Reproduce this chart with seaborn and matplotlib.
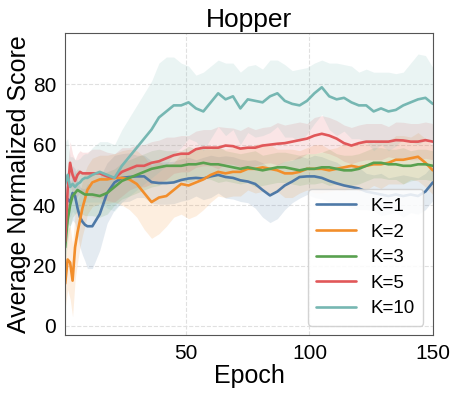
import matplotlib
matplotlib.use("Agg")
import matplotlib.pyplot as plt
import seaborn as sns
import numpy as np
import pandas as pd

epochs = list(range(1, 11)) + [12] + list(range(15, 151, 3))

k1_mean = [40, 42, 41, 44, 43, 39, 36, 34.5, 33.5, 33, 33, 37, 44, 47.5, 49, 49.3, 49.5, 49.5, 47.6,
           47.3, 47.3, 47.5, 48.3, 48.8, 49, 48.8, 49.5, 50, 49.3, 49, 48.2, 47.8, 47, 45, 43.2, 44.5,
           46.5, 47.8, 49.3, 49.5, 49.5, 49, 48, 47.2, 46.5, 46, 45.5, 44.5, 44, 43.5, 43, 43.5, 43,
           43.5, 43, 44.5, 47.5]
k2_mean = [14, 22, 21, 15, 26, 31, 35, 39, 42, 45, 47.5, 48.5, 48.5, 49, 49, 48.5, 47, 44, 41, 42.5,
           43, 45, 47, 46.5, 47.5, 48.5, 50, 51, 50.5, 51, 51, 52, 52, 52.5, 52, 51.5, 50.5, 50.5, 51,
           52, 52, 52, 51.5, 52, 52.5, 53, 52.5, 53, 53.5, 53.5, 54, 55, 55, 55.5, 56, 54, 51.5]
k3_mean = [26, 35, 40, 43, 44, 45, 44.5, 44, 43.5, 43.5, 43.5, 43, 44, 46, 48, 49, 50, 51, 52, 52.5,
           53, 53, 53, 53.5, 53.5, 54, 53.5, 53.5, 53, 52.5, 52, 52.5, 52, 51.5, 52, 52.5, 52.5, 52,
           51.5, 52, 52, 52.5, 52.5, 52, 51.5, 51.5, 52, 53, 54, 54, 53.5, 53.5, 53, 53, 53.5, 53.5, 53]
k5_mean = [28, 45, 54, 50, 48, 50, 51, 50.5, 50.5, 50.5, 50.5, 50.5, 49.5, 49, 51, 52, 53, 53, 54,
           54.5, 55.5, 56.5, 57, 57, 58.5, 59, 59, 59, 59.7, 59.5, 58.7, 59, 59, 59.7, 60, 60.3, 60.5,
           61, 61.5, 62, 63, 63.6, 63, 62, 60.5, 59.7, 60.5, 61, 61, 61, 61, 61.5, 61.4, 61, 61, 61.5, 61]
k10_mean = [47, 50, 46, 47, 46, 47, 47.5, 48.5, 49, 49, 50, 51, 50, 49, 53, 56, 59, 62, 65, 69, 71,
            73, 73, 74, 72, 71, 74, 77, 75, 76, 72, 75, 74.5, 74, 76, 77, 74.5, 73.5, 73, 74.5, 77, 79,
            76, 75, 75.5, 74, 73, 73, 71, 72, 71, 71.5, 73, 74, 75, 75.5, 73.5]

# approximate half-width of the shaded bands
k1_spread = [8, 8, 8, 9, 9, 9, 10, 11, 12, 14, 14, 12, 10, 9, 8, 8, 7, 7, 7, 7, 7, 7, 7, 7, 6, 7, 7,
             6, 7, 7, 7, 7, 8, 9, 9, 9, 8, 7, 7, 6, 7, 7, 7, 7, 6, 7, 7, 6, 6, 7, 6, 6, 7, 6, 6, 6, 6]
k2_spread = [8, 10, 12, 12, 11, 10, 9, 9, 9, 8, 8, 8, 8, 8, 9, 10, 11, 12, 12, 12, 10, 9, 10, 11, 11,
             10, 9, 8, 8, 8, 8, 7, 8, 8, 8, 7, 8, 8, 7, 7, 8, 8, 7, 7, 8, 7, 8, 8, 7, 8, 7, 8, 8, 7,
             8, 8, 8]
k3_spread = [5, 7, 7, 7, 7, 7, 7, 7, 7, 7, 7, 7, 7, 6, 6, 6, 6, 6, 6, 6, 5, 5, 5, 6, 5, 5, 5, 6, 5,
             5, 5, 5, 6, 5, 5, 5, 5, 5, 5, 5, 5, 5, 6, 5, 5, 5, 5, 5, 5, 5, 5, 5, 6, 5, 5, 5, 5]
k5_spread = [6, 8, 7, 7, 7, 7, 7, 7, 7, 7, 8, 8, 8, 8, 8, 7, 7, 7, 7, 7, 7, 6, 6, 6, 6, 6, 6, 7, 6,
             6, 6, 7, 6, 6, 6, 7, 6, 6, 6, 5, 6, 6, 6, 6, 6, 6, 6, 6, 6, 6, 5, 6, 6, 6, 6, 6, 6]
k10_spread = [14, 12, 10, 9, 9, 8, 8, 8, 8, 8, 9, 10, 11, 11, 12, 13, 14, 15, 16, 18, 18, 16, 14, 12,
              11, 13, 12, 11, 12, 11, 12, 11, 12, 11, 12, 11, 12, 11, 12, 11, 10, 9, 11, 12, 11, 12,
              11, 12, 13, 12, 13, 12, 11, 13, 15, 14, 12]

labels = ["K=1", "K=2", "K=3", "K=5", "K=10"]
means = [k1_mean, k2_mean, k3_mean, k5_mean, k10_mean]
spreads = [k1_spread, k2_spread, k3_spread, k5_spread, k10_spread]
palette = ["#4e79a7", "#f28e2b", "#59a14f", "#e15759", "#76b7b2"]

sns.set_style("whitegrid", {"grid.linestyle": "--", "axes.edgecolor": "#555555",
                            "text.color": "black", "axes.labelcolor": "black",
                            "xtick.color": "black", "ytick.color": "black"})
plt.rcParams["font.family"] = ["Liberation Sans", "DejaVu Sans"]

df = pd.concat([pd.DataFrame({"Epoch": epochs, "Score": m, "K": lab})
                for m, lab in zip(means, labels)], ignore_index=True)

fig = plt.figure(figsize=(4.59, 3.96), dpi=100)
ax = fig.add_axes([0.142, 0.154, 0.801, 0.763])

for m, s, c in zip(means, spreads, palette):
    m = np.array(m, dtype=float)
    s = np.array(s, dtype=float)
    ax.fill_between(epochs, m - s, m + s, color=c, alpha=0.15, linewidth=0)

sns.lineplot(data=df, x="Epoch", y="Score", hue="K", palette=palette, linewidth=1.9,
             ax=ax, errorbar=None)

ax.set_xlim(1, 150)
ax.set_ylim(-3, 97)
ax.set_xticks([50, 100, 150])
ax.set_yticks([0, 20, 40, 60, 80])
ax.tick_params(axis="both", labelsize=15, length=3, color="#555555")
ax.grid(True, linestyle="--", color="#e0e0e0", linewidth=0.8)
ax.set_title("Hopper", fontsize=19, pad=4)
ax.set_xlabel("Epoch", fontsize=18, labelpad=1)
ax.set_ylabel("Average Normalized Score", fontsize=18, labelpad=1)

ax.legend(loc="lower right", fontsize=13.5, frameon=True, framealpha=0.85,
          edgecolor="#cccccc", handlelength=2.1, borderpad=0.45, labelspacing=0.45)

fig.savefig("out.png", dpi=100)
